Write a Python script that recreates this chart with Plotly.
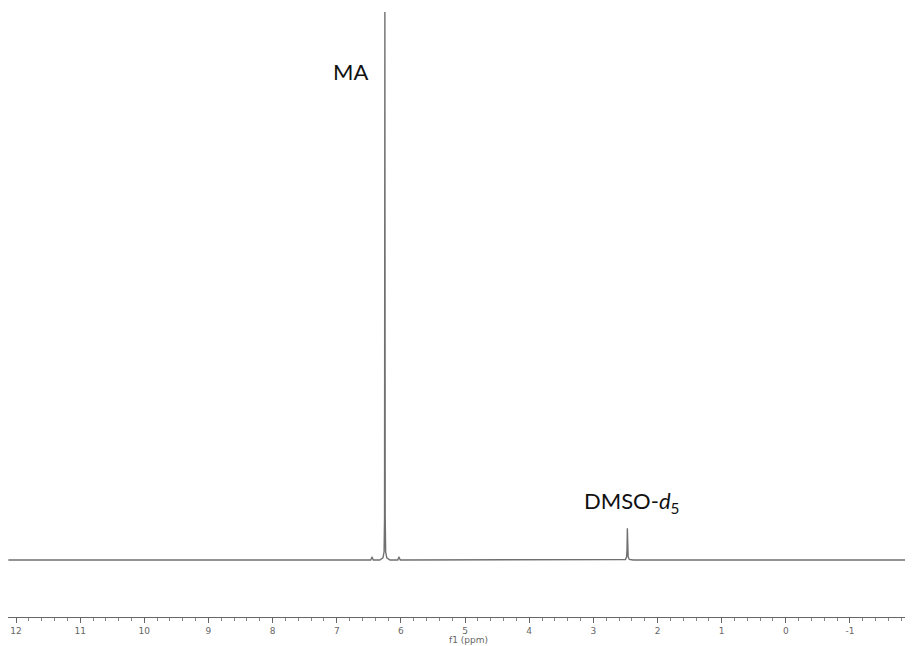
import plotly.graph_objects as go

# Spectrum points (ppm, relative intensity)
ppm = [12.12, 6.60, 6.47, 6.455, 6.45, 6.445, 6.43, 6.33, 6.28, 6.262, 6.255, 6.25,
       6.245, 6.238, 6.22, 6.17, 6.05, 6.035, 6.03, 6.025, 6.01, 5.50, 2.56, 2.50,
       2.482, 2.475, 2.47, 2.465, 2.458, 2.44, 2.38, -1.97]
intensity = [0.0, 0.0, 0.0, 0.004, 0.005, 0.004, 0.0, 0.0, 0.004, 0.015, 0.08, 1.0,
             0.08, 0.015, 0.004, 0.0, 0.0, 0.004, 0.005, 0.004, 0.0, 0.0, 0.0, 0.001,
             0.006, 0.02, 0.058, 0.02, 0.006, 0.001, 0.0, 0.0]

tick_vals = [12, 11, 10, 9, 8, 7, 6, 5, 4, 3, 2, 1, 0, -1, -2]
tick_text = ["12", "11", "10", "9", "8", "7", "6", "5", "4", "3", "2", "1", "0", "-1", "-2"]

labels = ["MA", "DMSO-<i>d</i><sub>5</sub>"]
label_x = [6.79, 2.40]
label_y = [0.891, 0.105]

fig = go.Figure()
fig.add_trace(go.Scatter(x=ppm, y=intensity, mode="lines",
                         line=dict(color="#707070", width=1.4), hoverinfo="skip",
                         showlegend=False))

for t, x, y in zip(labels, label_x, label_y):
    fig.add_annotation(x=x, y=y, xref="x", yref="y", text=t, showarrow=False,
                       font=dict(family="Lato", size=22, color="#111111"))

fig.add_annotation(x=4.94, y=-0.038, xref="x", yref="paper", text="f1 (ppm)", showarrow=False,
                   yanchor="middle", font=dict(family="DejaVu Sans", size=9, color="#666666"))

fig.update_xaxes(range=[12.125, -2.014], showgrid=False, zeroline=False,
                 showline=True, linecolor="#666666", linewidth=1,
                 tickmode="array", tickvals=tick_vals, ticktext=tick_text,
                 ticks="outside", ticklen=5, tickcolor="#666666", tickwidth=1,
                 tickfont=dict(family="DejaVu Sans", size=9, color="#666666"),
                 minor=dict(dtick=0.2, ticks="outside", ticklen=3, tickcolor="#888888",
                            tickwidth=1, showgrid=False))
fig.update_yaxes(range=[-0.104, 1.0037], visible=False, showgrid=False, zeroline=False)

fig.update_layout(width=913, height=646, margin=dict(l=0, r=6, t=2, b=37),
                  plot_bgcolor="white", paper_bgcolor="white")

fig.write_html("out.html")
